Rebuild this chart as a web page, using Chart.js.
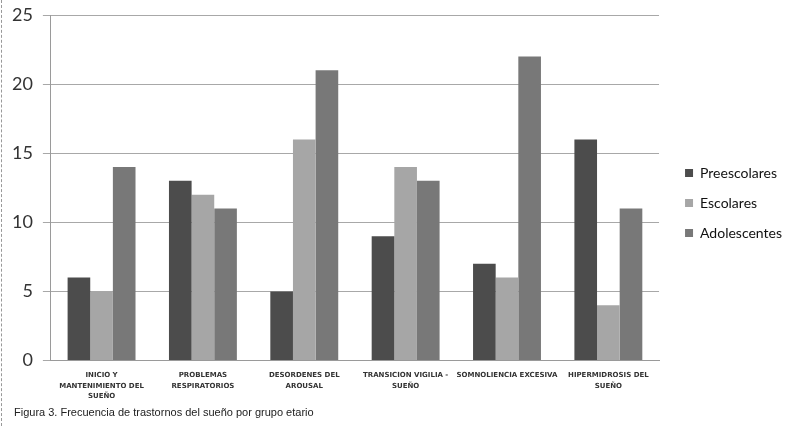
<!DOCTYPE html>
<html>
<head>
<meta charset="utf-8">
<script src="https://cdn.jsdelivr.net/npm/chart.js@4.4.1/dist/chart.umd.min.js"></script>
<style>
html,body{margin:0;padding:0;background:#fff;}
#wrap{position:relative;width:786px;height:426px;overflow:hidden;}
#wrap canvas{position:absolute;left:0;top:0;}
#border{position:absolute;left:1px;top:0;height:426px;border-left:1px dashed #999;}
#cap{position:absolute;left:14px;top:406px;font-family:"Liberation Sans",Arial,sans-serif;font-size:11px;color:#222;}
</style>
</head>
<body>
<div id="wrap">
<canvas id="c" width="786" height="426"></canvas>
<div id="border"></div>
<div id="cap">Figura 3. Frecuencia de trastornos del sueño por grupo etario</div>
</div>
<script>
const categories = [
  ["INICIO Y", "MANTENIMIENTO DEL", "SUEÑO"],
  ["PROBLEMAS", "RESPIRATORIOS"],
  ["DESORDENES DEL", "AROUSAL"],
  ["TRANSICION VIGILIA -", "SUEÑO"],
  ["SOMNOLIENCIA EXCESIVA"],
  ["HIPERMIDROSIS DEL", "SUEÑO"]
];
const seriesNames = ["Preescolares", "Escolares", "Adolescentes"];
const preescolares = [6, 13, 5, 9, 7, 16];
const escolares = [5, 12, 16, 14, 6, 4];
const adolescentes = [14, 11, 21, 13, 22, 11];
const yTicks = [0, 5, 10, 15, 20, 25];

const colors = ["#4c4c4c", "#a6a6a6", "#787878"];

const legendShift = {
  id: 'legendShift',
  afterLayout(chart, args, opts) {
    const lg = chart.legend;
    if (!lg) return;
    lg.left += opts.dx; lg.right += opts.dx;
    lg.top += opts.dy; lg.bottom += opts.dy;
  }
};

new Chart(document.getElementById('c'), {
  type: 'bar',
  data: {
    labels: categories,
    datasets: [
      {label: seriesNames[0], data: preescolares, backgroundColor: colors[0]},
      {label: seriesNames[1], data: escolares, backgroundColor: colors[1]},
      {label: seriesNames[2], data: adolescentes, backgroundColor: colors[2]}
    ]
  },
  plugins: [legendShift],
  options: {
    responsive: false,
    animation: false,
    layout: {padding: {left: 2, top: 15, right: 4, bottom: 15}},
    datasets: {bar: {categoryPercentage: 0.67, barPercentage: 1.0}},
    plugins: {
      legendShift: {dx: 10, dy: -10},
      legend: {
        position: 'right',
        align: 'center',
        labels: {
          boxWidth: 8, boxHeight: 8, padding: 16,
          color: '#111',
          font: {family: 'Lato', size: 14}
        }
      },
      tooltip: {enabled: false}
    },
    scales: {
      x: {
        grid: {display: false, drawTicks: false},
        border: {display: true, color: '#9a9a9a', width: 1},
        ticks: {
          color: '#333', maxRotation: 0, autoSkip: false,
          font: {family: 'DejaVu Sans', size: 7, weight: 'bold', lineHeight: 1.45},
          padding: 10
        }
      },
      y: {
        min: 0, max: 25,
        afterBuildTicks: (axis) => { axis.ticks = yTicks.map(v => ({value: v})); },
        afterFit: (axis) => { axis.paddingTop = 0; axis.paddingBottom = 0; },
        grid: {color: '#a8a8a8', lineWidth: 1, tickLength: 8, drawTicks: true},
        border: {color: '#9a9a9a', width: 1},
        ticks: {
          color: '#333',
          font: {family: 'Lato', size: 18},
          padding: 10
        }
      }
    }
  }
});
</script>
</body>
</html>
